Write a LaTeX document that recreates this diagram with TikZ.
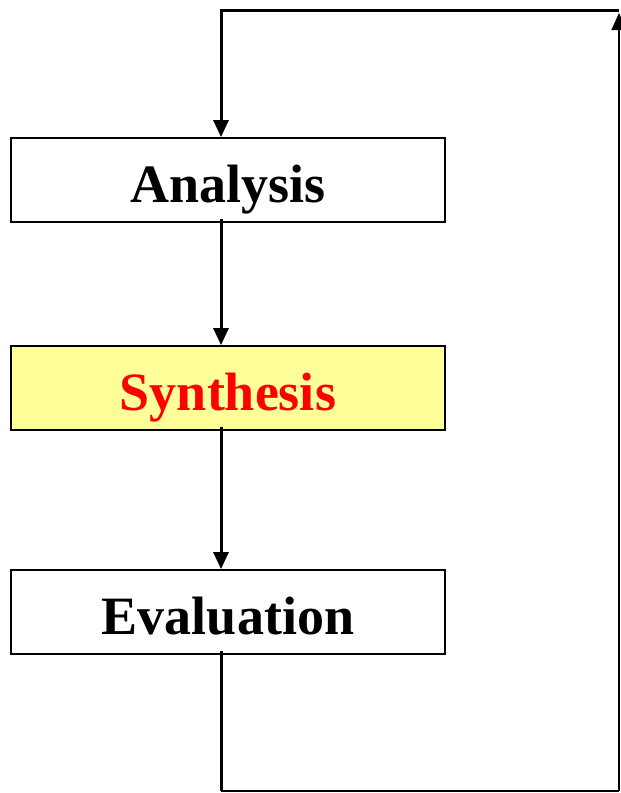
\documentclass[tikz,border=0pt]{standalone}
\usepackage{fontspec}
\setmainfont{Liberation Serif}
\usetikzlibrary{arrows.meta}
\definecolor{paleyellow}{HTML}{FFFF99}
\begin{document}
\begin{tikzpicture}[x=1pt,y=-1pt,
  stage/.style={draw=black,line width=1.8pt,minimum width=434pt,minimum height=84pt,
    inner sep=0pt,text height=44pt,text depth=0pt,
    font=\fontsize{54}{60}\selectfont\bfseries},
  flow/.style={line width=3pt},
  thin/.style={line width=1.6pt},
  head/.style={-{Triangle[width=15pt,length=17pt]}}]
\useasboundingbox (0,0) rectangle (621,793);
\clip (0,0) rectangle (621,793);
\node[stage,fill=white] (ana) at (228,180) {Analysis};
\node[stage,fill=paleyellow,text={rgb,255:red,255;green,0;blue,0}] (syn) at (228,388) {Synthesis};
\node[stage,fill=white] (eva) at (228,612) {Evaluation};
\coordinate (lx) at (221,0);
\coordinate (bl) at (221,791);
\coordinate (br) at (619,791);
\coordinate (tr) at (619,10);
\coordinate (tl) at (221,10);
% main flow
\draw[flow,head] ([yshift=4pt]ana.south -| lx) -- (syn.north -| lx);
\draw[flow,head] ([yshift=4pt]syn.south -| lx) -- (eva.north -| lx);
% feedback loop
\draw[flow] ([yshift=4pt]eva.south -| lx) -- (bl);
\draw[thin] (bl) -- (br);
\draw[thin,head] (br) -- ([yshift=-3pt]tr);
\draw[flow,head] (tr) -- (tl) -- (ana.north -| lx);
\end{tikzpicture}
\end{document}
